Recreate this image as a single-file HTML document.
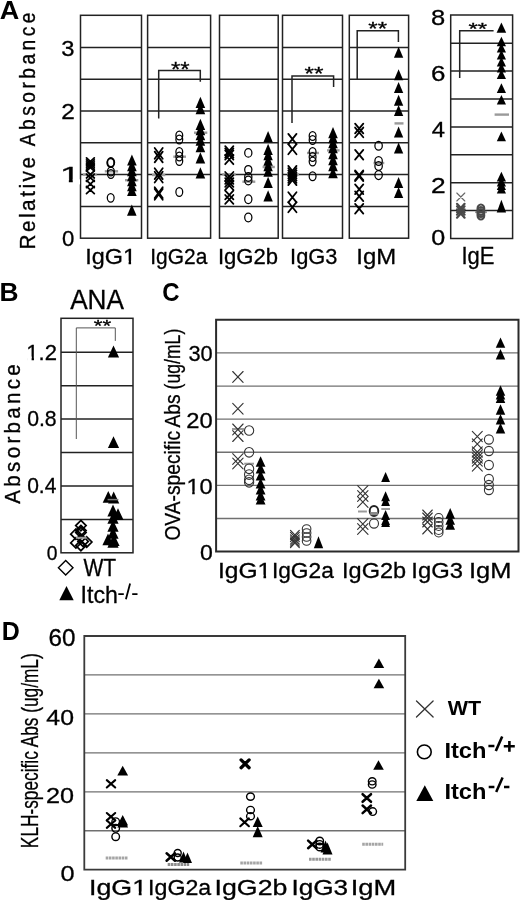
<!DOCTYPE html>
<html><head><meta charset="utf-8"><style>
html,body{margin:0;padding:0;background:#fff;width:520px;height:900px;overflow:hidden}
svg{display:block;font-family:"Liberation Sans", sans-serif;filter:grayscale(1) blur(0.35px)}
</style></head><body>
<svg width="520" height="900" viewBox="0 0 520 900">
<rect width="520" height="900" fill="#fff"/>
<text transform="translate(-0.28 18.5) scale(1.0736 1)" font-size="25.16" font-weight="bold" fill="#000">A</text>
<text transform="translate(35.1 249.52) rotate(-90) scale(0.9500 1)" font-size="21.88" letter-spacing="2.616" stroke="#000" stroke-width="0.35" fill="#000">Relative</text>
<text transform="translate(35.1 146.25) rotate(-90) scale(0.8800 1)" font-size="21.88" letter-spacing="3.917" stroke="#000" stroke-width="0.35" fill="#000">Absorbance</text>
<line x1="80.5" y1="206.4" x2="141.5" y2="206.4" stroke="#222" stroke-width="1.5"/>
<line x1="80.5" y1="174.6" x2="141.5" y2="174.6" stroke="#222" stroke-width="1.5"/>
<line x1="80.5" y1="142.8" x2="141.5" y2="142.8" stroke="#222" stroke-width="1.5"/>
<line x1="80.5" y1="111" x2="141.5" y2="111" stroke="#222" stroke-width="1.5"/>
<line x1="80.5" y1="79.2" x2="141.5" y2="79.2" stroke="#222" stroke-width="1.5"/>
<line x1="80.5" y1="47.4" x2="141.5" y2="47.4" stroke="#222" stroke-width="1.5"/>
<rect x="80.5" y="15.3" width="61" height="222.9" fill="none" stroke="#222" stroke-width="1.5"/>
<line x1="147.6" y1="206.4" x2="210.6" y2="206.4" stroke="#222" stroke-width="1.5"/>
<line x1="147.6" y1="174.6" x2="210.6" y2="174.6" stroke="#222" stroke-width="1.5"/>
<line x1="147.6" y1="142.8" x2="210.6" y2="142.8" stroke="#222" stroke-width="1.5"/>
<line x1="147.6" y1="111" x2="210.6" y2="111" stroke="#222" stroke-width="1.5"/>
<line x1="147.6" y1="79.2" x2="210.6" y2="79.2" stroke="#222" stroke-width="1.5"/>
<line x1="147.6" y1="47.4" x2="210.6" y2="47.4" stroke="#222" stroke-width="1.5"/>
<rect x="147.6" y="15.3" width="63" height="222.9" fill="none" stroke="#222" stroke-width="1.5"/>
<line x1="219.5" y1="206.4" x2="278.2" y2="206.4" stroke="#222" stroke-width="1.5"/>
<line x1="219.5" y1="174.6" x2="278.2" y2="174.6" stroke="#222" stroke-width="1.5"/>
<line x1="219.5" y1="142.8" x2="278.2" y2="142.8" stroke="#222" stroke-width="1.5"/>
<line x1="219.5" y1="111" x2="278.2" y2="111" stroke="#222" stroke-width="1.5"/>
<line x1="219.5" y1="79.2" x2="278.2" y2="79.2" stroke="#222" stroke-width="1.5"/>
<line x1="219.5" y1="47.4" x2="278.2" y2="47.4" stroke="#222" stroke-width="1.5"/>
<rect x="219.5" y="15.3" width="58.7" height="222.9" fill="none" stroke="#222" stroke-width="1.5"/>
<line x1="282.5" y1="206.4" x2="342.5" y2="206.4" stroke="#222" stroke-width="1.5"/>
<line x1="282.5" y1="174.6" x2="342.5" y2="174.6" stroke="#222" stroke-width="1.5"/>
<line x1="282.5" y1="142.8" x2="342.5" y2="142.8" stroke="#222" stroke-width="1.5"/>
<line x1="282.5" y1="111" x2="342.5" y2="111" stroke="#222" stroke-width="1.5"/>
<line x1="282.5" y1="79.2" x2="342.5" y2="79.2" stroke="#222" stroke-width="1.5"/>
<line x1="282.5" y1="47.4" x2="342.5" y2="47.4" stroke="#222" stroke-width="1.5"/>
<rect x="282.5" y="15.3" width="60" height="222.9" fill="none" stroke="#222" stroke-width="1.5"/>
<line x1="349.3" y1="206.4" x2="408.6" y2="206.4" stroke="#222" stroke-width="1.5"/>
<line x1="349.3" y1="174.6" x2="408.6" y2="174.6" stroke="#222" stroke-width="1.5"/>
<line x1="349.3" y1="142.8" x2="408.6" y2="142.8" stroke="#222" stroke-width="1.5"/>
<line x1="349.3" y1="111" x2="408.6" y2="111" stroke="#222" stroke-width="1.5"/>
<line x1="349.3" y1="79.2" x2="408.6" y2="79.2" stroke="#222" stroke-width="1.5"/>
<line x1="349.3" y1="47.4" x2="408.6" y2="47.4" stroke="#222" stroke-width="1.5"/>
<rect x="349.3" y="15.3" width="59.3" height="222.9" fill="none" stroke="#222" stroke-width="1.5"/>
<text transform="translate(61.31 55.58) scale(1.0929 1)" font-size="21.77" stroke="#000" stroke-width="0.3" fill="#000">3</text>
<text transform="translate(61.18 119.3) scale(1.1049 1)" font-size="22.08" stroke="#000" stroke-width="0.3" fill="#000">2</text>
<text transform="translate(60 182.4) scale(1.6519 1)" font-size="22.11" stroke="#000" stroke-width="0.3" fill="#000">1</text>
<g transform="translate(60 182.4) scale(1.6519 1)" fill="#fff"><rect x="0.88" y="-3.06" width="4.47" height="5.05"/><rect x="7.72" y="-3.06" width="4.42" height="5.05"/></g>
<text transform="translate(62.01 245.68) scale(1.0199 1)" font-size="21.77" stroke="#000" stroke-width="0.3" fill="#000">0</text>
<text transform="translate(85.13 263.8) scale(1.0368 1)" font-size="22.61" stroke="#000" stroke-width="0.3" fill="#000">IgG1</text>
<g transform="translate(85.13 263.8) scale(1.0368 1)" fill="#fff"><rect x="37.35" y="-3.13" width="4.57" height="5.16"/><rect x="44.33" y="-3.13" width="4.52" height="5.16"/></g>
<text transform="translate(150.26 263.8) scale(0.9267 1)" font-size="22.61" stroke="#000" stroke-width="0.3" fill="#000">IgG2a</text>
<text transform="translate(217.96 263.8) scale(0.9768 1)" font-size="22.61" stroke="#000" stroke-width="0.3" fill="#000">IgG2b</text>
<text transform="translate(290.08 263.8) scale(0.9662 1)" font-size="22.61" stroke="#000" stroke-width="0.3" fill="#000">IgG3</text>
<text transform="translate(356.29 263.8) scale(1.0580 1)" font-size="22.61" stroke="#000" stroke-width="0.3" fill="#000">IgM</text>
<text transform="translate(461.46 263.5) scale(0.9492 1)" font-size="23.19" stroke="#000" stroke-width="0.3" fill="#000">IgE</text>
<line x1="450.7" y1="210.6" x2="512.6" y2="210.6" stroke="#222" stroke-width="1.5"/>
<line x1="450.7" y1="182.7" x2="512.6" y2="182.7" stroke="#222" stroke-width="1.5"/>
<line x1="450.7" y1="154.8" x2="512.6" y2="154.8" stroke="#222" stroke-width="1.5"/>
<line x1="450.7" y1="126.9" x2="512.6" y2="126.9" stroke="#222" stroke-width="1.5"/>
<line x1="450.7" y1="99" x2="512.6" y2="99" stroke="#222" stroke-width="1.5"/>
<line x1="450.7" y1="71.1" x2="512.6" y2="71.1" stroke="#222" stroke-width="1.5"/>
<line x1="450.7" y1="43.2" x2="512.6" y2="43.2" stroke="#222" stroke-width="1.5"/>
<rect x="450.7" y="15" width="61.9" height="223.5" fill="none" stroke="#222" stroke-width="1.5"/>
<text transform="translate(431.11 25.03) scale(1.1469 1)" font-size="22.26" stroke="#000" stroke-width="0.3" fill="#000">8</text>
<text transform="translate(430.9 81.29) scale(1.2238 1)" font-size="21.2" stroke="#000" stroke-width="0.3" fill="#000">6</text>
<text transform="translate(431.67 137.2) scale(1.0891 1)" font-size="21.82" stroke="#000" stroke-width="0.3" fill="#000">4</text>
<text transform="translate(430.88 192.75) scale(1.1907 1)" font-size="22.15" stroke="#000" stroke-width="0.3" fill="#000">2</text>
<text transform="translate(431.19 245.04) scale(1.1853 1)" font-size="21.2" stroke="#000" stroke-width="0.3" fill="#000">0</text>
<path d="M158.7 118.6V70.5H200.3V81.7" stroke="#222" stroke-width="1.5" fill="none"/>
<text transform="translate(170.98 76.14) scale(1.1364 1)" font-size="21.14" stroke="#000" stroke-width="0.3" fill="#000">**</text>
<path d="M292 123V76H333.6V87" stroke="#222" stroke-width="1.5" fill="none"/>
<text transform="translate(304.58 80.17) scale(1.3213 1)" font-size="18.29" stroke="#000" stroke-width="0.3" fill="#000">**</text>
<path d="M357.2 79V30.7H398.4V41.9" stroke="#222" stroke-width="1.5" fill="none"/>
<text transform="translate(368.28 34.67) scale(1.3140 1)" font-size="18.29" stroke="#000" stroke-width="0.3" fill="#000">**</text>
<path d="M459.7 78V30.8H493.6" stroke="#222" stroke-width="1.5" fill="none"/>
<text transform="translate(468.38 34.8) scale(1.4671 1)" font-size="16.29" stroke="#000" stroke-width="0.3" fill="#000">**</text>
<text transform="translate(-0.58 301) scale(1.0137 1)" font-size="26.04" font-weight="bold" fill="#000">B</text>
<text transform="translate(70.13 309.4) scale(0.9420 1)" font-size="27.83" stroke="#000" stroke-width="0.3" fill="#000">ANA</text>
<text transform="translate(20.1 503.65) rotate(-90) scale(0.9500 1)" font-size="21.59" letter-spacing="3.506" stroke="#000" stroke-width="0.35" fill="#000">Absorbance</text>
<line x1="61" y1="519.38" x2="133" y2="519.38" stroke="#222" stroke-width="1.5"/>
<line x1="61" y1="485.96" x2="133" y2="485.96" stroke="#222" stroke-width="1.5"/>
<line x1="61" y1="452.54" x2="133" y2="452.54" stroke="#222" stroke-width="1.5"/>
<line x1="61" y1="419.12" x2="133" y2="419.12" stroke="#222" stroke-width="1.5"/>
<line x1="61" y1="385.7" x2="133" y2="385.7" stroke="#222" stroke-width="1.5"/>
<line x1="61" y1="352.28" x2="133" y2="352.28" stroke="#222" stroke-width="1.5"/>
<rect x="61" y="318.3" width="72" height="234.5" fill="none" stroke="#222" stroke-width="1.5"/>
<text transform="translate(26.27 359.5) scale(1.0249 1)" font-size="21.51" stroke="#000" stroke-width="0.3" fill="#000">1.2</text>
<g transform="translate(26.27 359.5) scale(1.0249 1)" fill="#fff"><rect x="0.86" y="-2.99" width="4.34" height="4.92"/><rect x="7.51" y="-2.99" width="4.3" height="4.92"/></g>
<text transform="translate(27.15 426.28) scale(0.9705 1)" font-size="21.91" stroke="#000" stroke-width="0.3" fill="#000">0.8</text>
<text transform="translate(27.16 493.28) scale(0.9595 1)" font-size="21.91" stroke="#000" stroke-width="0.3" fill="#000">0.4</text>
<text transform="translate(46.83 559.6) scale(0.9737 1)" font-size="19.79" stroke="#000" stroke-width="0.3" fill="#000">0</text>
<path d="M76.3 439V327.9H115.3V340.9" stroke="#555" stroke-width="1" fill="none"/>
<text transform="translate(93.71 331.69) scale(1.3446 1)" font-size="16.57" stroke="#000" stroke-width="0.3" fill="#000">**</text>
<text transform="translate(83.39 576.1) scale(0.8896 1)" font-size="23.62" stroke="#000" stroke-width="0.3" fill="#000">WT</text>
<text transform="translate(80.55 603.4) scale(0.9762 1)" font-size="23.77" stroke="#000" stroke-width="0.3" fill="#000">Itch</text>
<path d="M118.3 594.2H123.8M130.1 583.6L125.9 599.3M132.2 594.2H137.5" stroke="#000" stroke-width="1.8" fill="none"/>
<text transform="translate(162.34 300.54) scale(0.9267 1)" font-size="25.87" font-weight="bold" fill="#000">C</text>
<text transform="translate(179.6 540.61) rotate(-90) scale(0.8619 1)" font-size="22.32" stroke="#000" stroke-width="0.3" fill="#000">OVA-specific</text>
<text transform="translate(179.6 427.55) rotate(-90) scale(0.8669 1)" font-size="22.32" stroke="#000" stroke-width="0.3" fill="#000">Abs</text>
<text transform="translate(179.6 389.4) rotate(-90) scale(0.7895 1)" font-size="22.32" stroke="#000" stroke-width="0.3" fill="#000">(ug/mL)</text>
<line x1="216.1" y1="518.49" x2="518.5" y2="518.49" stroke="#707070" stroke-width="1.3"/>
<line x1="216.1" y1="485.38" x2="518.5" y2="485.38" stroke="#707070" stroke-width="1.3"/>
<line x1="216.1" y1="452.27" x2="518.5" y2="452.27" stroke="#707070" stroke-width="1.3"/>
<line x1="216.1" y1="419.16" x2="518.5" y2="419.16" stroke="#707070" stroke-width="1.3"/>
<line x1="216.1" y1="386.05" x2="518.5" y2="386.05" stroke="#707070" stroke-width="1.3"/>
<line x1="216.1" y1="352.94" x2="518.5" y2="352.94" stroke="#707070" stroke-width="1.3"/>
<path d="M216.1 551.6V319.7H518.5V551.6Z" stroke="#2a2a2a" stroke-width="2" fill="none"/>
<text transform="translate(188.38 360.77) scale(0.9536 1)" font-size="22.9" stroke="#000" stroke-width="0.3" fill="#000">30</text>
<text transform="translate(186.31 427.78) scale(1.0848 1)" font-size="21.91" stroke="#000" stroke-width="0.3" fill="#000">20</text>
<text transform="translate(186.49 493.77) scale(1.0437 1)" font-size="22.61" stroke="#000" stroke-width="0.3" fill="#000">10</text>
<g transform="translate(186.49 493.77) scale(1.0437 1)" fill="#fff"><rect x="0.9" y="-3.13" width="4.57" height="5.16"/><rect x="7.89" y="-3.13" width="4.52" height="5.16"/></g>
<text transform="translate(199.88 559.77) scale(1.0187 1)" font-size="22.61" stroke="#000" stroke-width="0.3" fill="#000">0</text>
<text transform="translate(217.93 577.8) scale(1.1079 1)" font-size="22.17" stroke="#000" stroke-width="0.3" fill="#000">IgG1</text>
<g transform="translate(217.93 577.8) scale(1.1079 1)" fill="#fff"><rect x="36.63" y="-3.07" width="4.48" height="5.07"/><rect x="43.48" y="-3.07" width="4.43" height="5.07"/></g>
<text transform="translate(271.9 577.8) scale(1.0254 1)" font-size="22.17" stroke="#000" stroke-width="0.3" fill="#000">IgG2a</text>
<text transform="translate(342.02 577.8) scale(1.0622 1)" font-size="22.17" stroke="#000" stroke-width="0.3" fill="#000">IgG2b</text>
<text transform="translate(411.3 577.8) scale(1.0739 1)" font-size="22.17" stroke="#000" stroke-width="0.3" fill="#000">IgG3</text>
<text transform="translate(468.94 577.8) scale(1.1482 1)" font-size="22.17" stroke="#000" stroke-width="0.3" fill="#000">IgM</text>
<text transform="translate(1.81 640.4) scale(0.9488 1)" font-size="26.33" font-weight="bold" fill="#000">D</text>
<text transform="translate(38 848.13) rotate(-90) scale(0.7272 1)" font-size="23.77" stroke="#000" stroke-width="0.3" fill="#000">KLH-specific Abs (ug/mL)</text>
<line x1="84.3" y1="830.75" x2="405.2" y2="830.75" stroke="#707070" stroke-width="1.3"/>
<line x1="84.3" y1="791.8" x2="405.2" y2="791.8" stroke="#707070" stroke-width="1.3"/>
<line x1="84.3" y1="752.85" x2="405.2" y2="752.85" stroke="#707070" stroke-width="1.3"/>
<line x1="84.3" y1="713.9" x2="405.2" y2="713.9" stroke="#707070" stroke-width="1.3"/>
<line x1="84.3" y1="674.95" x2="405.2" y2="674.95" stroke="#707070" stroke-width="1.3"/>
<path d="M84.3 869.7V636.0H405.2V869.7Z" stroke="#3a3a3a" stroke-width="1.8" fill="none"/>
<text transform="translate(48.39 646.37) scale(1.0463 1)" font-size="23.18" stroke="#000" stroke-width="0.3" fill="#000">60</text>
<text transform="translate(46.34 724.68) scale(1.1273 1)" font-size="22.05" stroke="#000" stroke-width="0.3" fill="#000">40</text>
<text transform="translate(45.94 802.68) scale(1.1443 1)" font-size="22.05" stroke="#000" stroke-width="0.3" fill="#000">20</text>
<text transform="translate(60.59 881.08) scale(1.1276 1)" font-size="22.47" stroke="#000" stroke-width="0.3" fill="#000">0</text>
<text transform="translate(89.02 894.5) scale(1.2420 1)" font-size="21.59" stroke="#000" stroke-width="0.3" fill="#000">IgG1</text>
<g transform="translate(89.02 894.5) scale(1.2420 1)" fill="#fff"><rect x="35.67" y="-3" width="4.36" height="4.94"/><rect x="42.35" y="-3" width="4.32" height="4.94"/></g>
<text transform="translate(148.05 894.5) scale(1.0741 1)" font-size="21.59" stroke="#000" stroke-width="0.3" fill="#000">IgG2a</text>
<text transform="translate(214.53 894.5) scale(1.2391 1)" font-size="21.59" stroke="#000" stroke-width="0.3" fill="#000">IgG2b</text>
<text transform="translate(291.38 894.5) scale(1.2121 1)" font-size="21.59" stroke="#000" stroke-width="0.3" fill="#000">IgG3</text>
<text transform="translate(350.67 894.5) scale(1.2659 1)" font-size="21.59" stroke="#000" stroke-width="0.3" fill="#000">IgM</text>
<line x1="105.7" y1="858" x2="127.7" y2="858" stroke="#888" stroke-width="3" stroke-dasharray="2.6 0.6" opacity="0.75"/>
<line x1="167.7" y1="864.6" x2="189.2" y2="864.6" stroke="#666" stroke-width="3" stroke-dasharray="2.6 0.6" opacity="0.75"/>
<line x1="240.3" y1="863" x2="262.3" y2="863" stroke="#888" stroke-width="3" stroke-dasharray="2.6 0.6" opacity="0.75"/>
<line x1="309" y1="859.2" x2="331.1" y2="859.2" stroke="#777" stroke-width="3" stroke-dasharray="2.6 0.6" opacity="0.75"/>
<line x1="362.2" y1="844.3" x2="383.2" y2="844.3" stroke="#888" stroke-width="3" stroke-dasharray="2.6 0.6" opacity="0.75"/>
<text transform="translate(447.65 715.4) scale(1.0762 1)" font-size="20" font-weight="bold" fill="#000">WT</text>
<text transform="translate(444.4 758.1) scale(1.0757 1)" font-size="22.03" font-weight="bold" fill="#000">Itch</text>
<path d="M488.4 746H494.4M502.2 736.4L495.8 751.1M503.8 746.2H514.8M509.4 741V751.7" stroke="#000" stroke-width="2.6" fill="none"/>
<text transform="translate(444.4 799.4) scale(1.0349 1)" font-size="22.9" font-weight="bold" fill="#000">Itch</text>
<path d="M488.7 786.9H494.4M502.6 777.4L496.2 792.1M504 787H509.4" stroke="#000" stroke-width="2.5" fill="none"/>
<line x1="82.9" y1="174.6" x2="96.7" y2="174.6" stroke="#9a9a9a" stroke-width="2.4"/>
<line x1="104.8" y1="171.3" x2="118.1" y2="171.3" stroke="#9a9a9a" stroke-width="2.4"/>
<line x1="125" y1="180.2" x2="138.3" y2="180.2" stroke="#9a9a9a" stroke-width="2.4"/>
<line x1="152" y1="175" x2="165.3" y2="175" stroke="#9a9a9a" stroke-width="2.4"/>
<line x1="173.3" y1="156.7" x2="186" y2="156.7" stroke="#9a9a9a" stroke-width="2.4"/>
<line x1="194" y1="132.7" x2="207.3" y2="132.7" stroke="#9a9a9a" stroke-width="2.4"/>
<line x1="222.3" y1="174.4" x2="235.7" y2="174.4" stroke="#9a9a9a" stroke-width="2.4"/>
<line x1="242.4" y1="181.7" x2="255.3" y2="181.7" stroke="#9a9a9a" stroke-width="2.4"/>
<line x1="262.6" y1="167" x2="274.8" y2="167" stroke="#9a9a9a" stroke-width="2.4"/>
<line x1="287" y1="174.4" x2="299" y2="174.4" stroke="#9a9a9a" stroke-width="2.4"/>
<line x1="307" y1="153" x2="319" y2="153" stroke="#9a9a9a" stroke-width="2.4"/>
<line x1="327" y1="150.4" x2="339.6" y2="150.4" stroke="#9a9a9a" stroke-width="2.4"/>
<line x1="394.5" y1="123.4" x2="403.5" y2="123.4" stroke="#9a9a9a" stroke-width="2.4"/>
<line x1="373.5" y1="163" x2="384.3" y2="163" stroke="#9a9a9a" stroke-width="2.4"/>
<line x1="475" y1="212" x2="487" y2="212" stroke="#9a9a9a" stroke-width="2.2"/>
<line x1="494.6" y1="114.6" x2="509" y2="114.6" stroke="#9a9a9a" stroke-width="2.4"/>
<line x1="244.2" y1="463.7" x2="254" y2="463.7" stroke="#9a9a9a" stroke-width="2"/>
<line x1="232" y1="429" x2="244" y2="429" stroke="#9a9a9a" stroke-width="2"/>
<line x1="358" y1="511.5" x2="366.9" y2="511.5" stroke="#9a9a9a" stroke-width="2"/>
<line x1="381.3" y1="509" x2="390" y2="509" stroke="#9a9a9a" stroke-width="2"/>
<path d="M86.5 157.9L94.3 165.1M94.3 157.9L86.5 165.1" stroke="#000" stroke-width="1.8" fill="none" stroke-linecap="round"/>
<path d="M86.5 159.9L94.3 167.1M94.3 159.9L86.5 167.1" stroke="#000" stroke-width="1.8" fill="none" stroke-linecap="round"/>
<path d="M86.5 161.9L94.3 169.1M94.3 161.9L86.5 169.1" stroke="#000" stroke-width="1.8" fill="none" stroke-linecap="round"/>
<path d="M86.5 163.8L94.3 171M94.3 163.8L86.5 171" stroke="#000" stroke-width="1.8" fill="none" stroke-linecap="round"/>
<path d="M86.5 170.8L94.3 178M94.3 170.8L86.5 178" stroke="#000" stroke-width="1.8" fill="none" stroke-linecap="round"/>
<path d="M86.5 174.2L94.3 181.4M94.3 174.2L86.5 181.4" stroke="#000" stroke-width="1.8" fill="none" stroke-linecap="round"/>
<path d="M86.5 180.4L94.3 187.6M94.3 180.4L86.5 187.6" stroke="#000" stroke-width="1.8" fill="none" stroke-linecap="round"/>
<path d="M86.5 186.4L94.3 193.6M94.3 186.4L86.5 193.6" stroke="#000" stroke-width="1.8" fill="none" stroke-linecap="round"/>
<ellipse cx="110.9" cy="162.3" rx="3.5" ry="4.4" stroke="#000" stroke-width="1.6" fill="none"/>
<ellipse cx="110.6" cy="163" rx="3.5" ry="4.4" stroke="#000" stroke-width="1.3" fill="none"/>
<ellipse cx="110.9" cy="171.5" rx="3.4" ry="4.35" stroke="#000" stroke-width="1.25" fill="none"/>
<ellipse cx="110.9" cy="174" rx="3.4" ry="4.35" stroke="#000" stroke-width="1.25" fill="none"/>
<ellipse cx="110.7" cy="197.85" rx="3.4" ry="4.35" stroke="#000" stroke-width="1.25" fill="none"/>
<path d="M131.9 154.4L136.7 165.6L127.1 165.6Z" fill="#000"/>
<path d="M131.9 160L136.7 171.2L127.1 171.2Z" fill="#000"/>
<path d="M131.9 165L136.7 176.2L127.1 176.2Z" fill="#000"/>
<path d="M131.9 170L136.7 181.2L127.1 181.2Z" fill="#000"/>
<path d="M131.9 175L136.7 186.2L127.1 186.2Z" fill="#000"/>
<path d="M131.9 180L136.7 191.2L127.1 191.2Z" fill="#000"/>
<path d="M131.9 184.9L136.7 196.1L127.1 196.1Z" fill="#000"/>
<path d="M131.8 204.6L136.6 215.8L127 215.8Z" fill="#000"/>
<path d="M154.7 148L162.7 158.8M162.7 148L154.7 158.8" stroke="#000" stroke-width="1.8" fill="none" stroke-linecap="round"/>
<path d="M154.7 151.6L162.7 162.4M162.7 151.6L154.7 162.4" stroke="#000" stroke-width="1.8" fill="none" stroke-linecap="round"/>
<path d="M154.7 168.3L162.7 179.1M162.7 168.3L154.7 179.1" stroke="#000" stroke-width="1.8" fill="none" stroke-linecap="round"/>
<path d="M154.7 171.7L162.7 182.5M162.7 171.7L154.7 182.5" stroke="#000" stroke-width="1.8" fill="none" stroke-linecap="round"/>
<path d="M154.7 187.3L162.7 198.1M162.7 187.3L154.7 198.1" stroke="#000" stroke-width="1.8" fill="none" stroke-linecap="round"/>
<path d="M154.7 188.9L162.7 199.7M162.7 188.9L154.7 199.7" stroke="#000" stroke-width="1.8" fill="none" stroke-linecap="round"/>
<ellipse cx="179.3" cy="135.5" rx="3.4" ry="4.35" stroke="#000" stroke-width="1.25" fill="none"/>
<ellipse cx="179.3" cy="139.5" rx="3.4" ry="4.35" stroke="#000" stroke-width="1.25" fill="none"/>
<ellipse cx="179.3" cy="152" rx="3.4" ry="4.35" stroke="#000" stroke-width="1.25" fill="none"/>
<ellipse cx="179.3" cy="156.5" rx="3.4" ry="4.35" stroke="#000" stroke-width="1.25" fill="none"/>
<ellipse cx="179.3" cy="161" rx="3.4" ry="4.35" stroke="#000" stroke-width="1.25" fill="none"/>
<ellipse cx="179.3" cy="192" rx="3.4" ry="4.35" stroke="#000" stroke-width="1.25" fill="none"/>
<path d="M200.4 96.7L205.2 107.9L195.6 107.9Z" fill="#000"/>
<path d="M200.4 103L205.2 114.2L195.6 114.2Z" fill="#000"/>
<path d="M200.4 118.7L205.2 129.9L195.6 129.9Z" fill="#000"/>
<path d="M200.4 124L205.2 135.2L195.6 135.2Z" fill="#000"/>
<path d="M200.4 129L205.2 140.2L195.6 140.2Z" fill="#000"/>
<path d="M200.4 134.5L205.2 145.7L195.6 145.7Z" fill="#000"/>
<path d="M200.4 141L205.2 152.2L195.6 152.2Z" fill="#000"/>
<path d="M200.4 152.3L205.2 163.5L195.6 163.5Z" fill="#000"/>
<path d="M200.4 167.3L205.2 178.5L195.6 178.5Z" fill="#000"/>
<path d="M225.2 146.1L233.4 155.3M233.4 146.1L225.2 155.3" stroke="#000" stroke-width="1.8" fill="none" stroke-linecap="round"/>
<path d="M225.2 148.4L233.4 157.6M233.4 148.4L225.2 157.6" stroke="#000" stroke-width="1.8" fill="none" stroke-linecap="round"/>
<path d="M225.2 150.4L233.4 159.6M233.4 150.4L225.2 159.6" stroke="#000" stroke-width="1.8" fill="none" stroke-linecap="round"/>
<path d="M225.2 155L233.4 164.2M233.4 155L225.2 164.2" stroke="#000" stroke-width="1.8" fill="none" stroke-linecap="round"/>
<path d="M225.2 172L233.4 180.8M233.4 172L225.2 180.8" stroke="#000" stroke-width="1.8" fill="none" stroke-linecap="round"/>
<path d="M225.2 175.1L233.4 183.9M233.4 175.1L225.2 183.9" stroke="#000" stroke-width="1.8" fill="none" stroke-linecap="round"/>
<path d="M225.2 178.1L233.4 186.9M233.4 178.1L225.2 186.9" stroke="#000" stroke-width="1.8" fill="none" stroke-linecap="round"/>
<path d="M225.2 181.1L233.4 189.9M233.4 181.1L225.2 189.9" stroke="#000" stroke-width="1.8" fill="none" stroke-linecap="round"/>
<path d="M225.2 190.6L233.4 199.4M233.4 190.6L225.2 199.4" stroke="#000" stroke-width="1.8" fill="none" stroke-linecap="round"/>
<path d="M225.2 195L233.4 203.8M233.4 195L225.2 203.8" stroke="#000" stroke-width="1.8" fill="none" stroke-linecap="round"/>
<ellipse cx="248.3" cy="152.9" rx="3.6" ry="4.3" stroke="#000" stroke-width="1.25" fill="none"/>
<ellipse cx="248.3" cy="169.8" rx="3.6" ry="4.3" stroke="#000" stroke-width="1.25" fill="none"/>
<ellipse cx="248.3" cy="177" rx="3.6" ry="4.3" stroke="#000" stroke-width="1.25" fill="none"/>
<ellipse cx="248.3" cy="180.5" rx="3.6" ry="4.3" stroke="#000" stroke-width="1.25" fill="none"/>
<ellipse cx="248.3" cy="199.2" rx="3.6" ry="4.3" stroke="#000" stroke-width="1.25" fill="none"/>
<ellipse cx="248.3" cy="217.5" rx="3.6" ry="4.3" stroke="#000" stroke-width="1.25" fill="none"/>
<path d="M268.1 131L272.8 142.2L263.4 142.2Z" fill="#000"/>
<path d="M268.1 143.8L272.8 155L263.4 155Z" fill="#000"/>
<path d="M268.1 149L272.8 160.2L263.4 160.2Z" fill="#000"/>
<path d="M268.1 154.5L272.8 165.7L263.4 165.7Z" fill="#000"/>
<path d="M268.1 160L272.8 171.2L263.4 171.2Z" fill="#000"/>
<path d="M268.1 165.5L272.8 176.7L263.4 176.7Z" fill="#000"/>
<path d="M268.1 176.8L272.8 188L263.4 188Z" fill="#000"/>
<path d="M268.1 190.3L272.8 201.5L263.4 201.5Z" fill="#000"/>
<path d="M288.3 133.9L296.5 144.1M296.5 133.9L288.3 144.1" stroke="#000" stroke-width="1.8" fill="none" stroke-linecap="round"/>
<path d="M288.3 144.1L296.5 154.3M296.5 144.1L288.3 154.3" stroke="#000" stroke-width="1.8" fill="none" stroke-linecap="round"/>
<path d="M288.3 165.9L296.5 176.1M296.5 165.9L288.3 176.1" stroke="#000" stroke-width="1.8" fill="none" stroke-linecap="round"/>
<path d="M288.3 168.2L296.5 178.4M296.5 168.2L288.3 178.4" stroke="#000" stroke-width="1.8" fill="none" stroke-linecap="round"/>
<path d="M288.3 170.4L296.5 180.6M296.5 170.4L288.3 180.6" stroke="#000" stroke-width="1.8" fill="none" stroke-linecap="round"/>
<path d="M288.3 172.7L296.5 182.9M296.5 172.7L288.3 182.9" stroke="#000" stroke-width="1.8" fill="none" stroke-linecap="round"/>
<path d="M288.3 174.9L296.5 185.1M296.5 174.9L288.3 185.1" stroke="#000" stroke-width="1.8" fill="none" stroke-linecap="round"/>
<path d="M288.3 192.2L296.5 202.4M296.5 192.2L288.3 202.4" stroke="#000" stroke-width="1.8" fill="none" stroke-linecap="round"/>
<path d="M288.3 202.1L296.5 212.3M296.5 202.1L288.3 212.3" stroke="#000" stroke-width="1.8" fill="none" stroke-linecap="round"/>
<ellipse cx="312.6" cy="136" rx="3.4" ry="4.35" stroke="#000" stroke-width="1.25" fill="none"/>
<ellipse cx="312.6" cy="140" rx="3.4" ry="4.35" stroke="#000" stroke-width="1.25" fill="none"/>
<ellipse cx="312.6" cy="152" rx="3.4" ry="4.35" stroke="#000" stroke-width="1.25" fill="none"/>
<ellipse cx="312.6" cy="157" rx="3.4" ry="4.35" stroke="#000" stroke-width="1.25" fill="none"/>
<ellipse cx="312.6" cy="161.5" rx="3.4" ry="4.35" stroke="#000" stroke-width="1.25" fill="none"/>
<ellipse cx="312.6" cy="176.3" rx="3.4" ry="4.35" stroke="#000" stroke-width="1.25" fill="none"/>
<path d="M333 127L337.8 138.2L328.2 138.2Z" fill="#000"/>
<path d="M333 132L337.8 143.2L328.2 143.2Z" fill="#000"/>
<path d="M333 137L337.8 148.2L328.2 148.2Z" fill="#000"/>
<path d="M333 142L337.8 153.2L328.2 153.2Z" fill="#000"/>
<path d="M333 148L337.8 159.2L328.2 159.2Z" fill="#000"/>
<path d="M333 154L337.8 165.2L328.2 165.2Z" fill="#000"/>
<path d="M333 160L337.8 171.2L328.2 171.2Z" fill="#000"/>
<path d="M333 167L337.8 178.2L328.2 178.2Z" fill="#000"/>
<path d="M355.1 123.65L363.3 133.35M363.3 123.65L355.1 133.35" stroke="#000" stroke-width="1.8" fill="none" stroke-linecap="round"/>
<path d="M355.1 127.55L363.3 137.25M363.3 127.55L355.1 137.25" stroke="#000" stroke-width="1.8" fill="none" stroke-linecap="round"/>
<path d="M355.1 149.9L363.3 159.6M363.3 149.9L355.1 159.6" stroke="#000" stroke-width="1.8" fill="none" stroke-linecap="round"/>
<path d="M355.1 170.45L363.3 180.15M363.3 170.45L355.1 180.15" stroke="#000" stroke-width="1.8" fill="none" stroke-linecap="round"/>
<path d="M355.1 171.45L363.3 181.15M363.3 171.45L355.1 181.15" stroke="#000" stroke-width="1.8" fill="none" stroke-linecap="round"/>
<path d="M355.1 184.35L363.3 194.05M363.3 184.35L355.1 194.05" stroke="#000" stroke-width="1.8" fill="none" stroke-linecap="round"/>
<path d="M355.1 191.45L363.3 201.15M363.3 191.45L355.1 201.15" stroke="#000" stroke-width="1.8" fill="none" stroke-linecap="round"/>
<path d="M355.1 203.95L363.3 213.65M363.3 203.95L355.1 213.65" stroke="#000" stroke-width="1.8" fill="none" stroke-linecap="round"/>
<ellipse cx="378.6" cy="145.8" rx="3.7" ry="4.4" stroke="#000" stroke-width="1.25" fill="none"/>
<ellipse cx="378.6" cy="161" rx="3.7" ry="4.4" stroke="#000" stroke-width="1.25" fill="none"/>
<ellipse cx="378.6" cy="166" rx="3.7" ry="4.4" stroke="#000" stroke-width="1.25" fill="none"/>
<ellipse cx="378.6" cy="175.1" rx="3.7" ry="4.4" stroke="#000" stroke-width="1.25" fill="none"/>
<path d="M398.6 46.8L403.25 57.8L393.95 57.8Z" fill="#000"/>
<path d="M398.6 69.2L403.25 80.2L393.95 80.2Z" fill="#000"/>
<path d="M398.6 82L403.25 93L393.95 93Z" fill="#000"/>
<path d="M398.6 94.8L403.25 105.8L393.95 105.8Z" fill="#000"/>
<path d="M398.6 105L403.25 116L393.95 116Z" fill="#000"/>
<path d="M398.6 126.5L403.25 137.5L393.95 137.5Z" fill="#000"/>
<path d="M398.6 142.6L403.25 153.6L393.95 153.6Z" fill="#000"/>
<path d="M398.6 177L403.25 188L393.95 188Z" fill="#000"/>
<path d="M398.6 187L403.25 198L393.95 198Z" fill="#000"/>
<path d="M456.8 193L464.8 201M464.8 193L456.8 201" stroke="#666" stroke-width="1.1" fill="none" stroke-linecap="round"/>
<path d="M457 203.8L464.6 212.2M464.6 203.8L457 212.2" stroke="#4a4a4a" stroke-width="2.2" fill="none" stroke-linecap="round"/>
<path d="M457 206.3L464.6 214.7M464.6 206.3L457 214.7" stroke="#4a4a4a" stroke-width="2.2" fill="none" stroke-linecap="round"/>
<path d="M457 209.3L464.6 217.7M464.6 209.3L457 217.7" stroke="#4a4a4a" stroke-width="2.2" fill="none" stroke-linecap="round"/>
<ellipse cx="480.9" cy="208.5" rx="3.3" ry="4" stroke="#4a4a4a" stroke-width="2.2" fill="none"/>
<ellipse cx="480.9" cy="211" rx="3.3" ry="4" stroke="#4a4a4a" stroke-width="2.2" fill="none"/>
<ellipse cx="480.9" cy="213" rx="3.3" ry="4" stroke="#4a4a4a" stroke-width="2.2" fill="none"/>
<ellipse cx="480.9" cy="215.5" rx="3.3" ry="4" stroke="#4a4a4a" stroke-width="2.2" fill="none"/>
<path d="M501.4 22.6L506.2 32.8L496.6 32.8Z" fill="#000"/>
<path d="M501.4 36.7L506 46.3L496.8 46.3Z" fill="#000"/>
<path d="M501.4 43L506 52.6L496.8 52.6Z" fill="#000"/>
<path d="M501.4 50L506 59.6L496.8 59.6Z" fill="#000"/>
<path d="M501.4 57L506 66.6L496.8 66.6Z" fill="#000"/>
<path d="M501.4 63L506 72.6L496.8 72.6Z" fill="#000"/>
<path d="M501.4 69.5L506 79.1L496.8 79.1Z" fill="#000"/>
<path d="M501.4 83.3L506 92.9L496.8 92.9Z" fill="#000"/>
<path d="M501.4 95L506 104.6L496.8 104.6Z" fill="#000"/>
<path d="M501.4 131.6L506 141.2L496.8 141.2Z" fill="#000"/>
<path d="M501.4 171.8L506 181.4L496.8 181.4Z" fill="#000"/>
<path d="M501.4 177L506 186.6L496.8 186.6Z" fill="#000"/>
<path d="M501.4 180.5L506 190.1L496.8 190.1Z" fill="#000"/>
<path d="M501.4 184L506 193.6L496.8 193.6Z" fill="#000"/>
<path d="M501.4 199.8L506.1 212.4L496.7 212.4Z" fill="#000"/>
<path d="M80.9 520.4L86.1 525.6L80.9 530.8L75.7 525.6Z" stroke="#000" stroke-width="1.7" fill="none"/>
<path d="M80.9 525.4L86.1 530.6L80.9 535.8L75.7 530.6Z" stroke="#000" stroke-width="1.7" fill="none"/>
<path d="M75.9 529L81.1 534.2L75.9 539.4L70.7 534.2Z" stroke="#000" stroke-width="1.7" fill="none"/>
<path d="M80.9 527.3L86.1 532.5L80.9 537.7L75.7 532.5Z" stroke="#000" stroke-width="1.7" fill="none"/>
<path d="M83.1 536.2L88.3 541.4L83.1 546.6L77.9 541.4Z" stroke="#000" stroke-width="1.7" fill="none"/>
<path d="M75.9 537.7L81.1 542.9L75.9 548.1L70.7 542.9Z" stroke="#000" stroke-width="1.7" fill="none"/>
<path d="M80.9 540.3L86.1 545.5L80.9 550.7L75.7 545.5Z" stroke="#000" stroke-width="1.7" fill="none"/>
<path d="M86.7 536.8L91.9 542L86.7 547.2L81.5 542Z" stroke="#000" stroke-width="1.7" fill="none"/>
<line x1="75.9" y1="537.8" x2="86.7" y2="537.8" stroke="#9a9a9a" stroke-width="2"/>
<path d="M113.5 345.6L119.1 357.4L107.9 357.4Z" fill="#000"/>
<path d="M113.5 436.2L119.1 448L107.9 448Z" fill="#000"/>
<path d="M108.3 490.9L113.9 502.7L102.7 502.7Z" fill="#000"/>
<path d="M113.7 491.6L119.3 503.4L108.1 503.4Z" fill="#000"/>
<path d="M113 504.6L118.6 516.4L107.4 516.4Z" fill="#000"/>
<path d="M118 508.2L123.6 520L112.4 520Z" fill="#000"/>
<path d="M113 512L118.6 523.8L107.4 523.8Z" fill="#000"/>
<path d="M113 520L118.6 531.8L107.4 531.8Z" fill="#000"/>
<path d="M113 527L118.6 538.8L107.4 538.8Z" fill="#000"/>
<path d="M108 533.5L113.6 545.3L102.4 545.3Z" fill="#000"/>
<path d="M114 534.2L119.6 546L108.4 546Z" fill="#000"/>
<path d="M113 536L118.6 547.8L107.4 547.8Z" fill="#000"/>
<line x1="107.6" y1="499.6" x2="118.4" y2="499.6" stroke="#777" stroke-width="1.5"/>
<path d="M65.7 560.5L73 567.8L65.7 575.1L58.4 567.8Z" stroke="#000" stroke-width="1.4" fill="none"/>
<path d="M66.5 586.1L73.7 600.3L59.3 600.3Z" fill="#000"/>
<path d="M232.7 371.5L243.1 382.3M243.1 371.5L232.7 382.3" stroke="#333" stroke-width="1.1" fill="none" stroke-linecap="round"/>
<path d="M232.7 403.4L243.1 414.2M243.1 403.4L232.7 414.2" stroke="#333" stroke-width="1.1" fill="none" stroke-linecap="round"/>
<path d="M232.7 424L243.1 434.8M243.1 424L232.7 434.8" stroke="#333" stroke-width="1.1" fill="none" stroke-linecap="round"/>
<path d="M232.7 430.7L243.1 441.5M243.1 430.7L232.7 441.5" stroke="#333" stroke-width="1.1" fill="none" stroke-linecap="round"/>
<path d="M232.7 453.6L243.1 464.4M243.1 453.6L232.7 464.4" stroke="#333" stroke-width="1.1" fill="none" stroke-linecap="round"/>
<path d="M232.7 458.1L243.1 468.9M243.1 458.1L232.7 468.9" stroke="#333" stroke-width="1.1" fill="none" stroke-linecap="round"/>
<ellipse cx="249.1" cy="430.5" rx="4.6" ry="4.8" stroke="#333" stroke-width="1.1" fill="none"/>
<ellipse cx="249.1" cy="452.3" rx="4.6" ry="4.8" stroke="#333" stroke-width="1.1" fill="none"/>
<ellipse cx="249.1" cy="468.8" rx="4.6" ry="4.8" stroke="#333" stroke-width="1.1" fill="none"/>
<ellipse cx="249.1" cy="474.6" rx="4.6" ry="4.8" stroke="#333" stroke-width="1.1" fill="none"/>
<ellipse cx="249.1" cy="479.8" rx="4.6" ry="4.8" stroke="#333" stroke-width="1.1" fill="none"/>
<ellipse cx="249.1" cy="482.3" rx="4.6" ry="4.8" stroke="#333" stroke-width="1.1" fill="none"/>
<path d="M260.6 456.2L265.5 466.7L255.7 466.7Z" fill="#000"/>
<path d="M260.6 463L265.5 473.5L255.7 473.5Z" fill="#000"/>
<path d="M260.6 470L265.5 480.5L255.7 480.5Z" fill="#000"/>
<path d="M260.6 478L265.5 488.5L255.7 488.5Z" fill="#000"/>
<path d="M260.6 484L265.5 494.5L255.7 494.5Z" fill="#000"/>
<path d="M260.6 490L265.5 500.5L255.7 500.5Z" fill="#000"/>
<path d="M260.6 494L265.5 504.5L255.7 504.5Z" fill="#000"/>
<path d="M290.5 530.4L299.3 539.6M299.3 530.4L290.5 539.6" stroke="#333" stroke-width="1.2" fill="none" stroke-linecap="round"/>
<path d="M290.5 532.4L299.3 541.6M299.3 532.4L290.5 541.6" stroke="#333" stroke-width="1.2" fill="none" stroke-linecap="round"/>
<path d="M290.5 534.9L299.3 544.1M299.3 534.9L290.5 544.1" stroke="#333" stroke-width="1.2" fill="none" stroke-linecap="round"/>
<path d="M290.5 536.9L299.3 546.1M299.3 536.9L290.5 546.1" stroke="#333" stroke-width="1.2" fill="none" stroke-linecap="round"/>
<path d="M290.5 538.4L299.3 547.6M299.3 538.4L290.5 547.6" stroke="#333" stroke-width="1.2" fill="none" stroke-linecap="round"/>
<ellipse cx="306.6" cy="529" rx="4.3" ry="4.3" stroke="#333" stroke-width="1.1" fill="none"/>
<ellipse cx="306.6" cy="533" rx="4.3" ry="4.3" stroke="#333" stroke-width="1.1" fill="none"/>
<ellipse cx="306.6" cy="537" rx="4.3" ry="4.3" stroke="#333" stroke-width="1.1" fill="none"/>
<ellipse cx="306.6" cy="541" rx="4.3" ry="4.3" stroke="#333" stroke-width="1.1" fill="none"/>
<path d="M318.5 536.3L323.2 548.3L313.8 548.3Z" fill="#000"/>
<path d="M357.6 485.7L368 496.3M368 485.7L357.6 496.3" stroke="#333" stroke-width="1.1" fill="none" stroke-linecap="round"/>
<path d="M357.6 490.7L368 501.3M368 490.7L357.6 501.3" stroke="#333" stroke-width="1.1" fill="none" stroke-linecap="round"/>
<path d="M357.6 496.7L368 507.3M368 496.7L357.6 507.3" stroke="#333" stroke-width="1.1" fill="none" stroke-linecap="round"/>
<path d="M357.6 518.7L368 529.3M368 518.7L357.6 529.3" stroke="#333" stroke-width="1.1" fill="none" stroke-linecap="round"/>
<path d="M357.6 523.7L368 534.3M368 523.7L357.6 534.3" stroke="#333" stroke-width="1.1" fill="none" stroke-linecap="round"/>
<ellipse cx="374" cy="511" rx="4.3" ry="5" stroke="#222" stroke-width="1.9" fill="none"/>
<ellipse cx="374" cy="523.5" rx="4.5" ry="4.6" stroke="#333" stroke-width="1.1" fill="none"/>
<line x1="370.2" y1="513.6" x2="377.8" y2="513.6" stroke="#8a8a8a" stroke-width="3.2"/>
<path d="M385.6 471.9L390 481.9L381.2 481.9Z" fill="#000"/>
<path d="M385.6 491.3L390 501.3L381.2 501.3Z" fill="#000"/>
<path d="M385.6 496L390 506L381.2 506Z" fill="#000"/>
<path d="M385.6 510L390 520L381.2 520Z" fill="#000"/>
<path d="M385.6 515L390 525L381.2 525Z" fill="#000"/>
<path d="M385.6 517L390 527L381.2 527Z" fill="#000"/>
<path d="M422.7 510L432.3 520M432.3 510L422.7 520" stroke="#333" stroke-width="1.1" fill="none" stroke-linecap="round"/>
<path d="M422.7 513L432.3 523M432.3 513L422.7 523" stroke="#333" stroke-width="1.1" fill="none" stroke-linecap="round"/>
<path d="M422.7 517L432.3 527M432.3 517L422.7 527" stroke="#333" stroke-width="1.1" fill="none" stroke-linecap="round"/>
<path d="M422.7 524L432.3 534M432.3 524L422.7 534" stroke="#333" stroke-width="1.1" fill="none" stroke-linecap="round"/>
<ellipse cx="438.7" cy="518" rx="4.3" ry="4.5" stroke="#333" stroke-width="1.1" fill="none"/>
<ellipse cx="438.7" cy="522" rx="4.3" ry="4.5" stroke="#333" stroke-width="1.1" fill="none"/>
<ellipse cx="438.7" cy="526" rx="4.3" ry="4.5" stroke="#333" stroke-width="1.1" fill="none"/>
<ellipse cx="438.7" cy="530" rx="4.3" ry="4.5" stroke="#333" stroke-width="1.1" fill="none"/>
<ellipse cx="438.7" cy="532.5" rx="4.3" ry="4.5" stroke="#333" stroke-width="1.1" fill="none"/>
<path d="M450.2 507.9L455 518.7L445.4 518.7Z" fill="#000"/>
<path d="M450.2 514L455 524.8L445.4 524.8Z" fill="#000"/>
<path d="M450.2 519L455 529.8L445.4 529.8Z" fill="#000"/>
<path d="M472.3 431.3L482.3 441.7M482.3 431.3L472.3 441.7" stroke="#333" stroke-width="1.1" fill="none" stroke-linecap="round"/>
<path d="M472.3 438.8L482.3 449.2M482.3 438.8L472.3 449.2" stroke="#333" stroke-width="1.1" fill="none" stroke-linecap="round"/>
<path d="M472.3 446.8L482.3 457.2M482.3 446.8L472.3 457.2" stroke="#333" stroke-width="1.1" fill="none" stroke-linecap="round"/>
<path d="M472.3 449.8L482.3 460.2M482.3 449.8L472.3 460.2" stroke="#333" stroke-width="1.1" fill="none" stroke-linecap="round"/>
<path d="M472.3 452.8L482.3 463.2M482.3 452.8L472.3 463.2" stroke="#333" stroke-width="1.1" fill="none" stroke-linecap="round"/>
<path d="M472.3 455.8L482.3 466.2M482.3 455.8L472.3 466.2" stroke="#333" stroke-width="1.1" fill="none" stroke-linecap="round"/>
<path d="M472.3 460.8L482.3 471.2M482.3 460.8L472.3 471.2" stroke="#333" stroke-width="1.1" fill="none" stroke-linecap="round"/>
<ellipse cx="488.9" cy="439.5" rx="4.5" ry="4.6" stroke="#333" stroke-width="1.1" fill="none"/>
<ellipse cx="488.9" cy="451" rx="4.5" ry="4.6" stroke="#333" stroke-width="1.1" fill="none"/>
<ellipse cx="488.9" cy="465" rx="4.5" ry="4.6" stroke="#333" stroke-width="1.1" fill="none"/>
<ellipse cx="488.9" cy="479" rx="4.5" ry="4.6" stroke="#333" stroke-width="1.1" fill="none"/>
<ellipse cx="488.9" cy="485" rx="4.5" ry="4.6" stroke="#333" stroke-width="1.1" fill="none"/>
<ellipse cx="488.9" cy="490" rx="4.5" ry="4.6" stroke="#333" stroke-width="1.1" fill="none"/>
<path d="M500.5 337.4L505.25 347.8L495.75 347.8Z" fill="#000"/>
<path d="M500.5 349L505.25 359.4L495.75 359.4Z" fill="#000"/>
<path d="M500.5 385.3L505.25 395.7L495.75 395.7Z" fill="#000"/>
<path d="M500.5 389L505.25 399.4L495.75 399.4Z" fill="#000"/>
<path d="M500.5 392.5L505.25 402.9L495.75 402.9Z" fill="#000"/>
<path d="M500.5 404.3L505.25 414.7L495.75 414.7Z" fill="#000"/>
<path d="M500.5 414L505.25 424.4L495.75 424.4Z" fill="#000"/>
<path d="M500.5 423L505.25 433.4L495.75 433.4Z" fill="#000"/>
<path d="M106.8 780.1L115.2 787.5M115.2 780.1L106.8 787.5" stroke="#000" stroke-width="2.1" fill="none" stroke-linecap="round"/>
<path d="M106.8 813L115.2 820.4M115.2 813L106.8 820.4" stroke="#000" stroke-width="2.1" fill="none" stroke-linecap="round"/>
<path d="M106.8 820.5L115.2 827.9M115.2 820.5L106.8 827.9" stroke="#000" stroke-width="2.1" fill="none" stroke-linecap="round"/>
<path d="M122.7 765.8L128.1 775.4L117.3 775.4Z" fill="#000"/>
<path d="M122.7 815L128.1 825.5L117.3 825.5Z" fill="#000"/>
<path d="M122.7 817L128.1 827.5L117.3 827.5Z" fill="#000"/>
<ellipse cx="115.7" cy="821.7" rx="3.8" ry="3.8" stroke="#000" stroke-width="1.4" fill="none"/>
<ellipse cx="115.7" cy="828.3" rx="3.8" ry="3.8" stroke="#000" stroke-width="1.4" fill="none"/>
<ellipse cx="115.7" cy="836.7" rx="3.8" ry="3.8" stroke="#000" stroke-width="1.4" fill="none"/>
<path d="M166.6 853.3L175 860.7M175 853.3L166.6 860.7" stroke="#000" stroke-width="2.5" fill="none" stroke-linecap="round"/>
<ellipse cx="177.7" cy="853" rx="3.5" ry="3.5" stroke="#000" stroke-width="1.4" fill="none"/>
<ellipse cx="177.7" cy="857.5" rx="3.5" ry="3.5" stroke="#000" stroke-width="1.4" fill="none"/>
<path d="M183.5 851.5L188 862.5L179 862.5Z" fill="#000"/>
<path d="M187.5 852.5L192 863L183 863Z" fill="#000"/>
<path d="M241.1 759.9L249.1 767.7M249.1 759.9L241.1 767.7" stroke="#000" stroke-width="3.3" fill="none" stroke-linecap="round"/>
<path d="M240.3 818.4L248.9 826.2M248.9 818.4L240.3 826.2" stroke="#000" stroke-width="2.1" fill="none" stroke-linecap="round"/>
<ellipse cx="250.5" cy="796.6" rx="3.9" ry="3.6" stroke="#000" stroke-width="1.4" fill="none"/>
<ellipse cx="250.5" cy="810" rx="3.9" ry="3.6" stroke="#000" stroke-width="1.4" fill="none"/>
<ellipse cx="250.5" cy="816.2" rx="3.9" ry="3.6" stroke="#000" stroke-width="1.4" fill="none"/>
<path d="M257.7 816.6L262.7 827.1L252.7 827.1Z" fill="#000"/>
<path d="M257.7 826L262.7 837.2L252.7 837.2Z" fill="#000"/>
<path d="M308.1 840.6L316.5 848.2M316.5 840.6L308.1 848.2" stroke="#000" stroke-width="2.5" fill="none" stroke-linecap="round"/>
<ellipse cx="319.7" cy="841" rx="3.8" ry="3.8" stroke="#000" stroke-width="1.4" fill="none"/>
<ellipse cx="319.7" cy="844.4" rx="3.8" ry="3.8" stroke="#000" stroke-width="1.4" fill="none"/>
<ellipse cx="319.7" cy="847" rx="3.8" ry="3.8" stroke="#000" stroke-width="1.4" fill="none"/>
<path d="M325.5 840.4L330.5 852.4L320.5 852.4Z" fill="#000"/>
<path d="M327.5 842.5L332.5 854.5L322.5 854.5Z" fill="#000"/>
<path d="M378.9 658.4L384.2 667.9L373.6 667.9Z" fill="#000"/>
<path d="M378.9 678.7L384.2 688.2L373.6 688.2Z" fill="#000"/>
<path d="M378.5 760.3L383.8 769.8L373.2 769.8Z" fill="#000"/>
<ellipse cx="372.2" cy="781.3" rx="3.8" ry="3.6" stroke="#000" stroke-width="1.4" fill="none"/>
<ellipse cx="372.2" cy="784.5" rx="3.8" ry="3.6" stroke="#000" stroke-width="1.4" fill="none"/>
<path d="M362.6 794.2L371 801.8M371 794.2L362.6 801.8" stroke="#000" stroke-width="2.5" fill="none" stroke-linecap="round"/>
<path d="M362.6 805.5L371 813.1M371 805.5L362.6 813.1" stroke="#000" stroke-width="2.5" fill="none" stroke-linecap="round"/>
<ellipse cx="372.7" cy="811.6" rx="3.8" ry="3.8" stroke="#000" stroke-width="1.4" fill="none"/>
<path d="M416.5 701L433.1 717M433.1 701L416.5 717" stroke="#333" stroke-width="1.3" fill="none" stroke-linecap="round"/>
<ellipse cx="424.3" cy="751.9" rx="6.9" ry="6.9" stroke="#000" stroke-width="1.6" fill="none"/>
<path d="M424.8 785.2L433.3 801.1L416.3 801.1Z" fill="#000"/>
</svg>
</body></html>
